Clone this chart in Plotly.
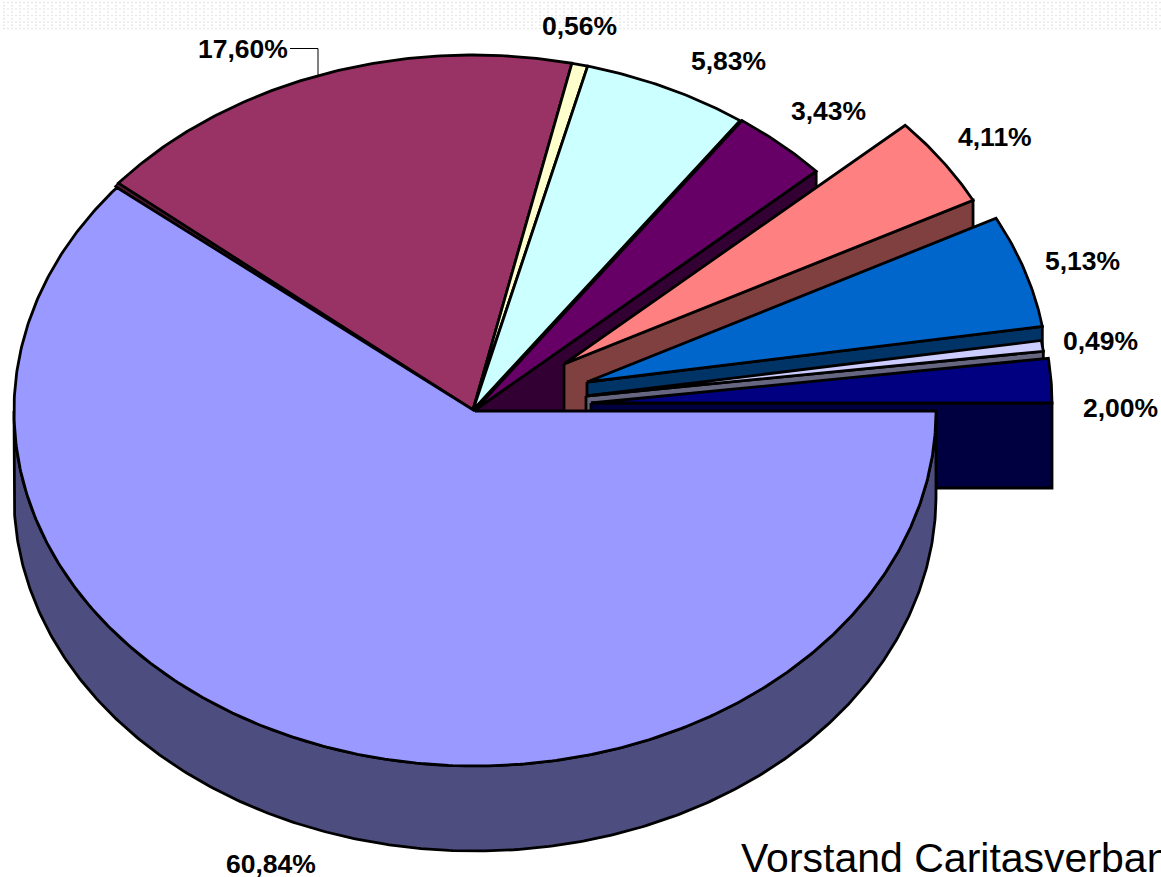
import numpy as np
import plotly.graph_objects as go

# Data
slice_names = ["A", "B", "C", "D", "E", "F", "G", "H", "I"]
shares = [60.84, 17.60, 0.56, 5.83, 3.43, 4.11, 5.13, 0.49, 2.00]
labels = ["60,84%", "17,60%", "0,56%", "5,83%", "3,43%", "4,11%", "5,13%", "0,49%", "2,00%"]
top_colors = ["#9999FF", "#993366", "#FFFFCC", "#CCFFFF", "#660066", "#FF8080", "#0066CC", "#CCCCFF", "#000080"]
side_colors = ["#4D4D80", "#4D1A33", "#808066", "#668080", "#330033", "#804040", "#003366", "#666680", "#000040"]
footer_text = "Vorstand Caritasverband"

# Layout of the drawing (pixel space of the page)
W, H = 1161, 877
CX, CY, RX, RY, DEPTH = 475, 411, 461, 355, 85
label_x = [271, 243, 579, 728, 828, 995, 1082, 1100, 1120]
label_y = [864, 49, 26, 61, 111, 137, 261, 341, 408]
apex_shift = [(0, 0), (-2, -1), (-2, -1), (-2, -1), (0, -1), (89, -47), (112, -29), (111, -15), (116, -8)]

OUT = "#000000"
LW = 2.8


def rim(a0, a1, dx, dy, extra=0):
    t = np.radians(np.linspace(a0, a1, max(2, int(abs(a1 - a0) * 2) + 2)))
    return CX + dx + RX * np.cos(t), CY + dy + extra + RY * np.sin(t)


def poly(fig, xs, ys, fill, width=LW):
    fig.add_trace(go.Scatter(x=list(xs), y=list(ys), mode="lines", fill="toself", fillcolor=fill,
                             line=dict(color=OUT, width=width), hoverinfo="skip", showlegend=False))


fig = go.Figure()

# faint dot band along the top edge
dx_list, dy_list = [], []
for i in range(9):
    y = 2.5 + 3.25 * i
    step = 4 if i % 2 == 0 else 8
    for x in np.arange(4, W, step):
        dx_list.append(float(x))
        dy_list.append(y)
fig.add_trace(go.Scatter(x=dx_list, y=dy_list, mode="markers",
                         marker=dict(symbol="square", size=1.6, color="#e4e4e4", line=dict(width=0)),
                         hoverinfo="skip", showlegend=False))

# angle bounds from the shares, clockwise from east
edges = np.concatenate([[0.0], np.cumsum(shares) * 3.6])
edges[-1] = 360.0

# back slices first, then exploded ones, big slice last
order = [1, 2, 3, 4, 5, 6, 7, 8, 0]
for idx in order:
    a0, a1 = edges[idx], edges[idx + 1]
    sx, sy = apex_shift[idx]
    ax, ay = CX + sx, CY + sy
    if idx == 0:
        # front band
        bx, by = rim(0, 180, 0, 0)
        bx2, by2 = rim(180, 0, 0, 0, DEPTH)
        poly(fig, np.r_[bx, bx2, bx[0]], np.r_[by, by2, by[0]], side_colors[idx])
    else:
        # radial wall at the clockwise end
        ex, ey = rim(a1, a1, sx, sy)
        px = [ax, ex[0], ex[0], ax, ax]
        py = [ay, ey[0], ey[0] + DEPTH, ay + DEPTH, ay]
        poly(fig, px, py, side_colors[idx])
    if idx == 1:
        # thin sliver of the wall next to the big slice
        s_x, s_y = rim(a0, a0 + 0.7, sx, sy)
        poly(fig, np.r_[ax, s_x, ax], np.r_[ay, s_y, ay], side_colors[idx], 1.5)
        a0 = a0 + 0.7
    tx, ty = rim(a0, a1, sx, sy)
    poly(fig, np.r_[ax, tx, ax], np.r_[ay, ty, ay], top_colors[idx])

# leader line for the 17,60% label
fig.add_trace(go.Scatter(x=[290, 318, 318], y=[48.5, 48.5, 75], mode="lines",
                         line=dict(color="#000000", width=1), hoverinfo="skip", showlegend=False))

annotations = [dict(x=x, y=y, xref="x", yref="y", text=t, showarrow=False, xanchor="center", yanchor="middle",
                    font=dict(family="Liberation Sans", size=26.5, color="#000000", weight="bold"))
               for x, y, t in zip(label_x, label_y, labels)]
annotations.append(dict(x=739, y=858, xref="x", yref="y", text=footer_text, showarrow=False,
                        xanchor="left", yanchor="middle",
                        font=dict(family="Liberation Sans", size=41, color="#000000")))

fig.update_layout(
    width=W, height=H, autosize=False,
    margin=dict(l=0, r=0, t=0, b=0, pad=0),
    paper_bgcolor="#FFFFFF", plot_bgcolor="#FFFFFF",
    showlegend=False, hovermode=False,
    xaxis=dict(range=[0, W], visible=False, fixedrange=True),
    yaxis=dict(range=[H, 0], visible=False, fixedrange=True),
    annotations=annotations,
)

fig.write_html("out.html", config={"displayModeBar": False},
               post_script="document.body.style.margin='0';document.body.style.overflow='hidden';")
